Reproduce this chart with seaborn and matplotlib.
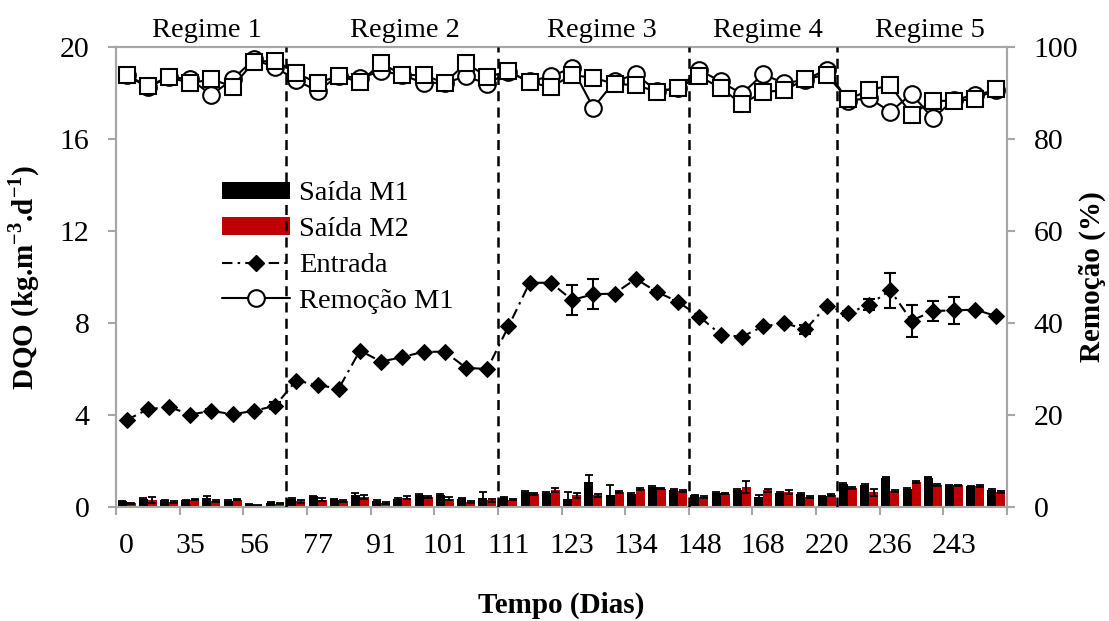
import numpy as np
import pandas as pd
import matplotlib
matplotlib.use("Agg")
import matplotlib.pyplot as plt
import seaborn as sns
from matplotlib.patches import Patch
from matplotlib.lines import Line2D

# ---------------- data ----------------
regime_names = ["Regime 1", "Regime 2", "Regime 3", "Regime 4", "Regime 5"]
regime_sizes = [8, 10, 9, 7, 8]
day_labels = ["0", "35", "56", "77", "91", "101", "111", "123", "134",
              "148", "168", "220", "236", "243"]

entrada = [3.78, 4.25, 4.35, 4.02, 4.18, 4.03, 4.18, 4.40,
           5.50, 5.30, 5.15, 6.80, 6.32, 6.52, 6.75, 6.75, 6.05, 6.00,
           7.85, 9.75, 9.75, 9.00, 9.25, 9.28, 9.92, 9.35, 8.92,
           8.28, 7.50, 7.40, 7.85, 8.00, 7.72, 8.75,
           8.42, 8.80, 9.42, 8.10, 8.52, 8.55, 8.58, 8.30]
entrada_err = [0.0, 0.0, 0.0, 0.0, 0.1, 0.0, 0.0, 0.15,
               0.0, 0.0, 0.0, 0.0, 0.0, 0.0, 0.0, 0.0, 0.0, 0.0,
               0.0, 0.0, 0.0, 0.66, 0.66, 0.0, 0.0, 0.1, 0.1,
               0.0, 0.0, 0.0, 0.0, 0.0, 0.2, 0.0,
               0.1, 0.25, 0.77, 0.70, 0.42, 0.58, 0.0, 0.0]

saida_m1 = [0.25, 0.36, 0.29, 0.29, 0.41, 0.26, 0.12, 0.19,
            0.36, 0.46, 0.32, 0.51, 0.26, 0.36, 0.51, 0.51, 0.36, 0.41,
            0.41, 0.65, 0.61, 0.35, 1.09, 0.51, 0.58, 0.87, 0.75,
            0.51, 0.61, 0.75, 0.43, 0.61, 0.58, 0.46,
            0.98, 0.94, 1.27, 0.80, 1.27, 0.94, 0.90, 0.75]
saida_m2 = [0.17, 0.32, 0.22, 0.32, 0.25, 0.32, 0.06, 0.14,
            0.25, 0.32, 0.26, 0.43, 0.17, 0.41, 0.43, 0.36, 0.22, 0.29,
            0.32, 0.58, 0.75, 0.51, 0.51, 0.65, 0.80, 0.80, 0.70,
            0.43, 0.58, 0.87, 0.72, 0.65, 0.43, 0.51,
            0.84, 0.65, 0.70, 1.09, 0.94, 0.94, 0.90, 0.65]
err_m1 = [0.03, 0.04, 0.03, 0.03, 0.06, 0.03, 0.02, 0.03,
          0.05, 0.04, 0.03, 0.08, 0.03, 0.04, 0.06, 0.05, 0.03, 0.25,
          0.04, 0.05, 0.05, 0.30, 0.28, 0.45, 0.04, 0.04, 0.04,
          0.03, 0.04, 0.05, 0.08, 0.06, 0.05, 0.04,
          0.05, 0.06, 0.03, 0.04, 0.03, 0.03, 0.03, 0.04]
err_m2 = [0.02, 0.13, 0.03, 0.03, 0.05, 0.03, 0.02, 0.03,
          0.06, 0.05, 0.03, 0.08, 0.03, 0.06, 0.06, 0.06, 0.05, 0.06,
          0.03, 0.04, 0.08, 0.12, 0.06, 0.05, 0.04, 0.03, 0.03,
          0.04, 0.03, 0.25, 0.05, 0.08, 0.06, 0.04,
          0.04, 0.15, 0.05, 0.04, 0.04, 0.03, 0.05, 0.04]

remocao_m1 = [93.9, 91.2, 93.5, 93.0, 89.6, 93.0, 97.3, 95.6,
              92.8, 90.4, 93.8, 93.2, 94.8, 93.9, 92.2, 92.2, 93.6, 92.0,
              94.5, 92.6, 93.6, 95.5, 86.8, 92.5, 94.1, 90.4, 91.0,
              95.0, 92.5, 89.8, 94.1, 92.1, 92.9, 95.1,
              88.3, 88.9, 85.9, 89.8, 84.5, 88.5, 89.6, 90.6]
remocao_m2 = [93.9, 91.5, 93.5, 92.1, 93.0, 91.4, 96.8, 97.0,
              94.4, 92.1, 93.8, 92.3, 96.5, 93.9, 93.9, 92.2, 96.5, 93.5,
              94.7, 92.3, 91.3, 93.9, 93.3, 92.0, 91.7, 90.3, 91.1,
              93.6, 91.1, 87.6, 90.2, 90.6, 93.0, 94.0,
              88.6, 90.6, 91.7, 85.3, 88.3, 88.3, 88.7, 90.8]

n = len(entrada)
idx = np.arange(n)

# ---------------- style ----------------
sns.set_style("white")
plt.rcParams["font.family"] = ["Liberation Serif", "DejaVu Serif"]
plt.rcParams["mathtext.fontset"] = "custom"
plt.rcParams["mathtext.rm"] = "Liberation Serif"
plt.rcParams["mathtext.bf"] = "Liberation Serif:bold"
plt.rcParams["text.color"] = "black"
plt.rcParams["axes.labelcolor"] = "black"

GREY = "#a6a6a6"
RED = "#c00000"
TICK_FS = 21.5
TEXT_FS = 20.5
LABEL_FS = 21

fig = plt.figure(figsize=(11.09, 6.21), dpi=100)
ax = fig.add_axes([116 / 1109, 1 - 507 / 621, 891 / 1109, 460 / 621])

bars = pd.DataFrame({
    "pos": np.concatenate([idx, idx]),
    "val": saida_m1 + saida_m2,
    "serie": ["Saída M1"] * n + ["Saída M2"] * n,
})
sns.barplot(data=bars, x="pos", y="val", hue="serie",
            palette={"Saída M1": "black", "Saída M2": RED},
            width=0.85, errorbar=None, legend=False, ax=ax,
            edgecolor="none", saturation=1)

for cont, errs in zip(ax.containers, [err_m1, err_m2]):
    for b, e in zip(cont, errs):
        ax.errorbar(b.get_x() + b.get_width() / 2, b.get_height(), yerr=e,
                    fmt="none", ecolor="black", elinewidth=1.3,
                    capsize=3.2, capthick=1.3, zorder=3)

DASHDOT = (0, (5, 2.5, 1.2, 2.5))
sns.lineplot(x=idx, y=entrada, ax=ax, color="black", marker="D",
             markersize=8.5, markeredgecolor="black", linewidth=1.5,
             linestyle=DASHDOT, zorder=4)
ax.errorbar(idx, entrada, yerr=entrada_err, fmt="none", ecolor="black",
            elinewidth=1.5, capsize=4.3, capthick=1.5, zorder=4)

ax2 = ax.twinx()
sns.lineplot(x=idx, y=remocao_m1, ax=ax2, color="black", marker="o",
             markersize=12, markerfacecolor="white", markeredgecolor="black",
             markeredgewidth=1.5, linewidth=1.5, zorder=3)
sns.lineplot(x=idx, y=remocao_m2, ax=ax2, color="black", marker="s",
             markersize=12, markerfacecolor="white", markeredgecolor="black",
             markeredgewidth=1.5, linewidth=1.5, zorder=4)

# regime separators and labels
bounds = np.cumsum([0] + regime_sizes) - 0.5
for b in bounds[1:-1]:
    ax2.axvline(b, color="black", linestyle=(0, (4, 2.5)), linewidth=1.8,
                zorder=6)
label_x = [3.79, 13.13, 22.41, 30.22, 37.88]
for name, lx in zip(regime_names, label_x):
    ax2.text(lx, 1.035, name, transform=ax2.get_xaxis_transform(),
             ha="center", va="center", fontsize=TEXT_FS, color="black")

# axes limits and ticks
ax.set_xlim(-0.5, n - 0.5)
ax2.set_xlim(-0.5, n - 0.5)
ax.set_ylim(0, 20)
ax2.set_ylim(0, 100)
ax.set_yticks([0, 4, 8, 12, 16, 20])
ax2.set_yticks([0, 20, 40, 60, 80, 100])

ax.set_xticks(np.arange(-0.5, n, 3))
ax.set_xticklabels([])
ax.set_xticks(np.arange(0, n, 3), minor=True)
ax.set_xticklabels(day_labels, minor=True)
ax.tick_params(axis="x", which="major", direction="out", length=6,
               width=1.5, color=GREY, bottom=True)
ax.tick_params(axis="x", which="minor", length=0, pad=19, labelsize=TICK_FS,
               labelcolor="black")
ax.tick_params(axis="y", direction="out", length=6, width=1.5, color=GREY,
               left=True, pad=13, labelsize=TICK_FS, labelcolor="black")
ax2.tick_params(axis="y", direction="out", length=6, width=1.5, color=GREY,
                right=True, pad=13, labelsize=TICK_FS, labelcolor="black")

for a in (ax, ax2):
    for s in a.spines.values():
        s.set_color(GREY)
        s.set_linewidth(1.5)
        s.set_visible(True)

ax.set_xlabel("Tempo (Dias)", fontsize=LABEL_FS, fontweight="bold",
              color="black")
ax.set_ylabel(r"DQO (kg.m$^{\mathbf{-3}}$.d$^{\mathbf{-1}}$)",
              fontsize=LABEL_FS, fontweight="bold", color="black")
ax2.set_ylabel("Remoção (%)", fontsize=LABEL_FS, fontweight="bold",
               color="black")
ax.xaxis.set_label_coords(0.5, -0.185)
ax.yaxis.set_label_coords(-0.083, 0.5)
ax2.yaxis.set_label_coords(1.081, 0.5)

handles = [
    Patch(facecolor="black", edgecolor="none"),
    Patch(facecolor=RED, edgecolor="none"),
    Line2D([], [], color="black", marker="D", markersize=8.5,
           linestyle=DASHDOT, linewidth=1.5),
    Line2D([], [], color="black", marker="o", markersize=12,
           markerfacecolor="white", markeredgewidth=1.5, linewidth=1.5),
]
leg = ax2.legend(handles, ["Saída M1", "Saída M2", "Entrada", "Remoção M1"],
                 loc="upper left", bbox_to_anchor=(0.119, 0.708),
                 frameon=False, fontsize=TEXT_FS, handlelength=2.4,
                 handleheight=0.55, handletextpad=0.3, labelspacing=0.38,
                 borderaxespad=0, borderpad=0)
for t in leg.get_texts():
    t.set_color("black")
leg.set_zorder(5)

fig.savefig("out.png", dpi=100)
